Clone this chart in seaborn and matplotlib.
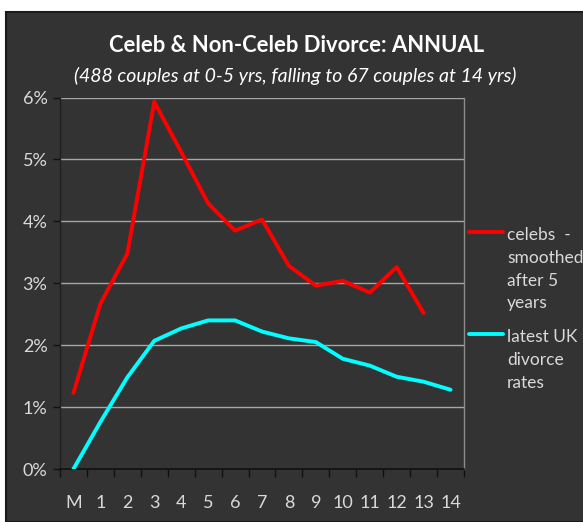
import matplotlib
matplotlib.use("Agg")
import matplotlib.pyplot as plt
import seaborn as sns
import pandas as pd
from matplotlib.patches import Rectangle
from matplotlib.lines import Line2D

categories = ["M", "1", "2", "3", "4", "5", "6", "7", "8", "9", "10", "11", "12", "13", "14"]
celebs = [1.23, 2.67, 3.48, 5.93, 5.12, 4.29, 3.85, 4.03, 3.28, 2.96, 3.04, 2.85, 3.26, 2.52, None]
uk = [0.0, 0.76, 1.48, 2.07, 2.27, 2.40, 2.40, 2.22, 2.11, 2.05, 1.78, 1.67, 1.49, 1.41, 1.28]
series_names = ["celebs  -\nsmoothed\nafter 5\nyears", "latest UK\ndivorce\nrates"]
y_ticks = [0, 1, 2, 3, 4, 5, 6]
y_labels = ["0%", "1%", "2%", "3%", "4%", "5%", "6%"]

sns.set_theme(style="dark")
plt.rcParams['font.family'] = ['Lato', 'DejaVu Sans']

W, H = 583, 522
fig = plt.figure(figsize=(W / 100, H / 100), dpi=100)
fig.patch.set_facecolor("white")
bg = "#333333"
fig.patches.append(Rectangle((6 / W, 0), 1, 1 - 12 / H, transform=fig.transFigure,
                             facecolor=bg, edgecolor="#1a1a1a", linewidth=1.5, zorder=-10))

left, right, top, bottom = 60, 464, 97.5, 469
ax = fig.add_axes([left / W, 1 - bottom / H, (right - left) / W, (bottom - top) / H])
ax.set_facecolor(bg)
ax.set_zorder(1)

df = pd.DataFrame({"x": list(range(len(categories))) * 2,
                   "value": celebs + uk,
                   "series": [series_names[0]] * len(categories) + [series_names[1]] * len(categories)})
colors = {series_names[0]: "#ff0000", series_names[1]: "#00ffff"}
sns.lineplot(data=df, x="x", y="value", hue="series", palette=colors, ax=ax,
             linewidth=2.8, legend=False, zorder=3)

ax.set_xlim(-0.5, len(categories) - 0.5)
ax.set_ylim(0, 6)
ax.set_yticks(y_ticks)
ax.set_yticklabels(y_labels)
ax.set_xticks(range(len(categories)))
ax.set_xticklabels(categories)
ax.set_xlabel("")
ax.set_ylabel("")
ax.grid(False)
for yv in y_ticks[1:]:
    ax.axhline(yv, color="#a6a6a6", linewidth=1.0, zorder=1)

ax.spines["top"].set_visible(False)
ax.spines["right"].set_visible(True)
ax.spines["right"].set_color("#8c8c8c")
ax.spines["right"].set_linewidth(1.0)
ax.spines["left"].set_color("#1f1f1f")
ax.spines["bottom"].set_color("#111111")
ax.spines["left"].set_linewidth(1.0)
ax.spines["bottom"].set_linewidth(1.2)

ax.tick_params(axis="y", which="major", direction="out", length=5, width=1, color="#111111",
               labelcolor="#d9d9d9", labelsize=13, pad=4, left=True)
ax.set_xticks([i - 0.5 for i in range(len(categories) + 1)], minor=True)
ax.tick_params(axis="x", which="minor", direction="out", length=6, width=1, color="#111111", bottom=True)
ax.tick_params(axis="x", which="major", length=0, labelcolor="#d9d9d9", labelsize=13, pad=19)

fig.text(297 / W, 1 - 46 / H, "Celeb & Non-Celeb Divorce: ANNUAL", ha="center", va="center",
         color="white", fontsize=15.8, fontweight="bold")
fig.text(295 / W, 1 - 76 / H, "(488 couples at 0-5 yrs, falling to 67 couples at 14 yrs)",
         ha="center", va="center", color="white", fontsize=14, style="italic")

leg_y = [232, 334]
for name, ly in zip(series_names, leg_y):
    fig.lines.append(Line2D([469 / W, 503 / W], [1 - ly / H, 1 - ly / H], transform=fig.transFigure,
                            color=colors[name], linewidth=2.8))
    fig.text(507 / W, 1 - (ly - 5) / H, name, ha="left", va="top", color="#d9d9d9",
             fontsize=12.5, linespacing=1.52)

fig.savefig("out.png", dpi=100, facecolor=fig.get_facecolor())
